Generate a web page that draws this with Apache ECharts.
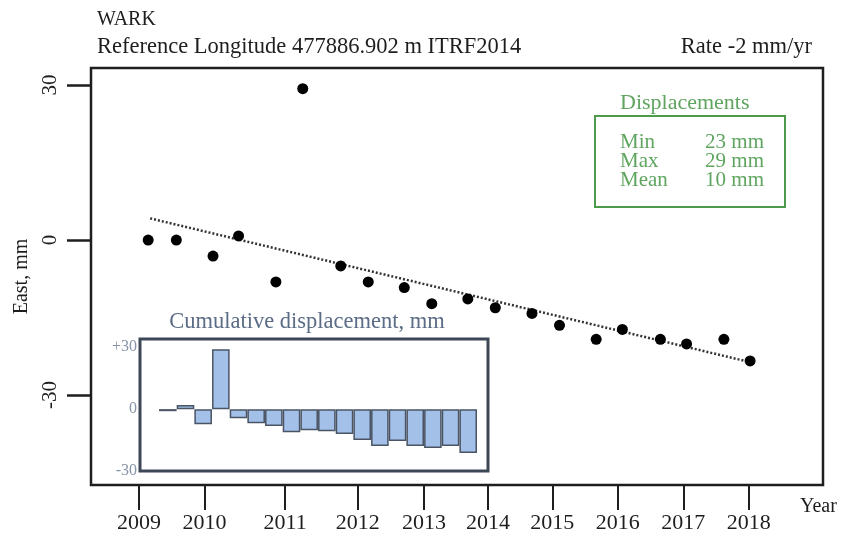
<!DOCTYPE html>
<html>
<head>
<meta charset="utf-8">
<script src="https://cdn.jsdelivr.net/npm/echarts@6/dist/echarts.min.js"></script>
<style>
  html, body { margin: 0; padding: 0; background: #ffffff; }
  #chart { width: 841px; height: 537px; }
</style>
</head>
<body>
<div id="chart"></div>
<script>
// Station time series: east component, decimal years vs. mm
var stationName = 'WARK';
var referenceText = 'Reference Longitude 477886.902 m ITRF2014';
var rateText = 'Rate -2 mm/yr';

var epochs = [2009.14, 2009.57, 2010.13, 2010.52, 2011.09, 2011.50, 2012.08, 2012.50,
              2013.05, 2013.47, 2014.02, 2014.44, 2015.00, 2015.42, 2015.98, 2016.38,
              2016.96, 2017.36, 2017.93, 2018.33];
var eastMm = [0.0, 0.0, -3.1, 0.8, -8.1, 29.3, -5.0, -8.1,
              -9.2, -12.3, -11.4, -13.1, -14.2, -16.5, -19.2, -17.3,
              -19.2, -20.1, -19.2, -23.4];

// Linear trend drawn between its two end epochs
var trendEpochs = [2009.17, 2018.32];
var trendMm = [4.2, -23.6];

// Year tick positions and their labels
var yearTicks = [2009.00, 2010.00, 2011.23, 2012.34, 2013.35, 2014.33, 2015.31, 2016.31, 2017.31, 2018.31];
var yearLabels = ['2009', '2010', '2011', '2012', '2013', '2014', '2015', '2016', '2017', '2018'];
var eastTicks = [-30, 0, 30];

// Displacement summary
var statNames = ['Min', 'Max', 'Mean'];
var statValues = ['23 mm', '29 mm', '10 mm'];

// Cumulative displacement steps (mm)
var cumulativeSteps = [1, 2, 3, 4, 5, 6, 7, 8, 9, 10, 11, 12, 13, 14, 15, 16, 17, 18];
var cumulativeMm = [-1, 2, -7.3, 29, -4.4, -6.8, -8.2, -11.2, -10.2, -10.7,
                    -12.1, -15, -17.9, -15.5, -17.9, -18.9, -17.9, -21.3];
var insetTicks = [30, 0, -30];

var serif = '"Liberation Serif", "DejaVu Serif", serif';
var ink = '#1e1e1e';
var green = '#4c9a4c';
var greenText = '#5fa55f';
var slate = '#5b6c86';

var chart = echarts.init(document.getElementById('chart'), null, { renderer: 'canvas' });

var option = {
  backgroundColor: '#ffffff',
  animation: false,
  textStyle: { fontFamily: serif },
  title: [
    { text: stationName, left: 92, top: 5, textStyle: { fontFamily: serif, fontSize: 20, fontWeight: 'normal', color: ink } },
    { text: referenceText, left: 92, top: 31, textStyle: { fontFamily: serif, fontSize: 22.5, fontWeight: 'normal', color: ink } },
    { text: rateText, right: 24, top: 31, textStyle: { fontFamily: serif, fontSize: 22.5, fontWeight: 'normal', color: ink } },
    { text: 'Cumulative displacement, mm', left: 302, top: 306, textAlign: 'center',
      textStyle: { fontFamily: serif, fontSize: 22.5, fontWeight: 'normal', color: slate } }
  ],
  grid: [
    { left: 91, top: 68, right: 18, bottom: 52, show: true, borderColor: ink, borderWidth: 2.5, backgroundColor: '#ffffff' },
    { left: 140, top: 339, width: 348, height: 132, show: true, borderColor: '#3d4756', borderWidth: 3, backgroundColor: '#ffffff', z: 5 }
  ],
  xAxis: [
    {
      type: 'value', gridIndex: 0, min: 2008.267, max: 2019.443,
      axisLine: { show: false, onZero: false },
      splitLine: { show: false },
      axisTick: { show: true, inside: false, length: 25, customValues: yearTicks, lineStyle: { color: ink, width: 2 } },
      axisLabel: {
        show: true, customValues: yearTicks, margin: 27, fontFamily: serif, fontSize: 22, color: ink,
        formatter: function (v) {
          var i = yearTicks.indexOf(v);
          return i >= 0 ? yearLabels[i] : '';
        }
      }
    },
    {
      type: 'value', gridIndex: 1, min: -0.575, max: 19.12,
      show: false, splitLine: { show: false }, axisLine: { onZero: false }
    }
  ],
  yAxis: [
    {
      type: 'value', gridIndex: 0, min: -47.4, max: 33.3,
      name: 'East, mm', nameLocation: 'middle', nameRotate: 90, nameGap: 59,
      nameTextStyle: { fontFamily: serif, fontSize: 20, color: ink },
      axisLine: { show: false, onZero: false },
      splitLine: { show: false },
      axisTick: { show: true, inside: false, length: 24, customValues: eastTicks, lineStyle: { color: ink, width: 2.5 } },
      axisLabel: { show: true, customValues: eastTicks, rotate: 90, margin: 30, fontFamily: serif, fontSize: 21, color: ink }
    },
    {
      type: 'value', gridIndex: 1, min: -30, max: 34,
      axisLine: { show: false, onZero: false },
      splitLine: { show: false },
      axisTick: { show: false },
      axisLabel: {
        show: true, customValues: insetTicks, margin: 3, fontFamily: serif, fontSize: 16, color: '#8794a8',
        formatter: function (v) { return v > 0 ? '+' + v : String(v); }
      }
    }
  ],
  series: [
    {
      name: 'Trend', type: 'line', xAxisIndex: 0, yAxisIndex: 0,
      data: trendEpochs.map(function (t, i) { return [t, trendMm[i]]; }),
      showSymbol: false, symbol: 'none',
      lineStyle: { color: '#333333', width: 2.5, type: [2, 2] },
      z: 2
    },
    {
      name: 'East', type: 'scatter', xAxisIndex: 0, yAxisIndex: 0,
      data: epochs.map(function (t, i) { return [t, eastMm[i]]; }),
      symbol: 'circle', symbolSize: 11,
      itemStyle: { color: '#000000', opacity: 1 },
      z: 3
    },
    {
      name: 'Cumulative', type: 'bar', xAxisIndex: 1, yAxisIndex: 1,
      data: cumulativeSteps.map(function (s, i) { return [s, cumulativeMm[i]]; }),
      barWidth: 17.6,
      itemStyle: { color: '#a2c0e8', borderColor: '#4a5464', borderWidth: 1.5 },
      z: 6
    }
  ],
  graphic: [
    {
      type: 'text', left: 800, top: 497, z: 10,
      style: { text: 'Year', font: '20px ' + serif, fill: ink }
    },
    {
      type: 'rect', left: 594, top: 115, z: 10,
      shape: { width: 190, height: 91 },
      style: { fill: 'rgba(0,0,0,0)', stroke: green, lineWidth: 2 }
    },
    {
      type: 'text', left: 620, top: 92, z: 10,
      style: { text: 'Displacements', font: '22px ' + serif, fill: greenText }
    },
    {
      type: 'text', left: 620, top: 132, z: 10,
      style: { text: statNames.join('\n'), font: '21px ' + serif, lineHeight: 19, fill: greenText }
    },
    {
      type: 'text', right: 77, top: 132, z: 10,
      style: { text: statValues.join('\n'), font: '21px ' + serif, lineHeight: 19, fill: greenText, align: 'right' }
    }
  ]
};

chart.setOption(option);
</script>
</body>
</html>
